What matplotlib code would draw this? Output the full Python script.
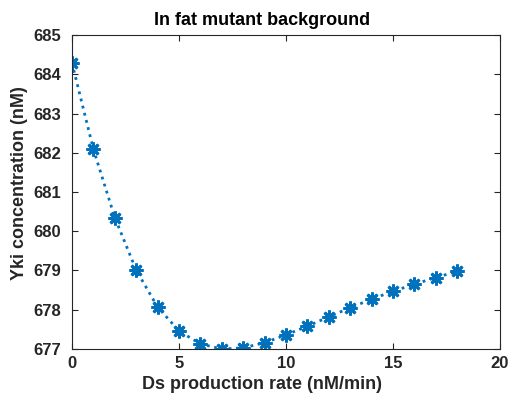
import matplotlib
matplotlib.use('Agg')
from matplotlib import pyplot as plt

plt.rcParams['font.family'] = ['Liberation Sans', 'DejaVu Sans']
plt.rcParams['font.weight'] = 'bold'

ds_rate = [0, 1, 2, 3, 4, 5, 6, 7, 8, 9, 10, 11, 12, 13, 14, 15, 16, 17, 18]
yki_conc = [684.29, 682.09, 680.35, 679.01, 678.07, 677.46, 677.13, 677.0,
            677.03, 677.16, 677.36, 677.58, 677.82, 678.05, 678.27, 678.47,
            678.65, 678.82, 678.98]

grey = '#262626'

fig = plt.figure(figsize=(5.08, 3.96), dpi=100)
ax = fig.add_axes([0.1417, 0.1187, 0.8425, 0.7929])
# asterisk markers joined by a dotted line
ax.plot(ds_rate, yki_conc, color='#0072BD', linestyle=':', linewidth=2,
        marker=(8, 2, 0), markersize=10, markeredgewidth=2)

ax.set_xlim(0, 20)
ax.set_ylim(677, 685)
ax.set_xticks([0, 5, 10, 15, 20])
ax.set_yticks(range(677, 686))

ax.set_title('In fat mutant background', fontsize=13, fontweight='bold', pad=7, x=0.444)
ax.set_xlabel('Ds production rate (nM/min)', fontsize=13, fontweight='bold', color=grey)
ax.set_ylabel('Yki concentration (nM)', fontsize=13, fontweight='bold', color=grey)
ax.xaxis.set_label_coords(0.444, -0.086)
ax.yaxis.set_label_coords(-0.103, 0.529)

ax.tick_params(direction='in', top=True, right=True, length=4, width=0.8,
               labelsize=12, colors=grey)
ax.tick_params(axis='x', pad=5)
ax.tick_params(axis='y', pad=8)
for side in ax.spines.values():
    side.set_color(grey)
    side.set_linewidth(0.8)

fig.savefig('out.png', dpi=100)
